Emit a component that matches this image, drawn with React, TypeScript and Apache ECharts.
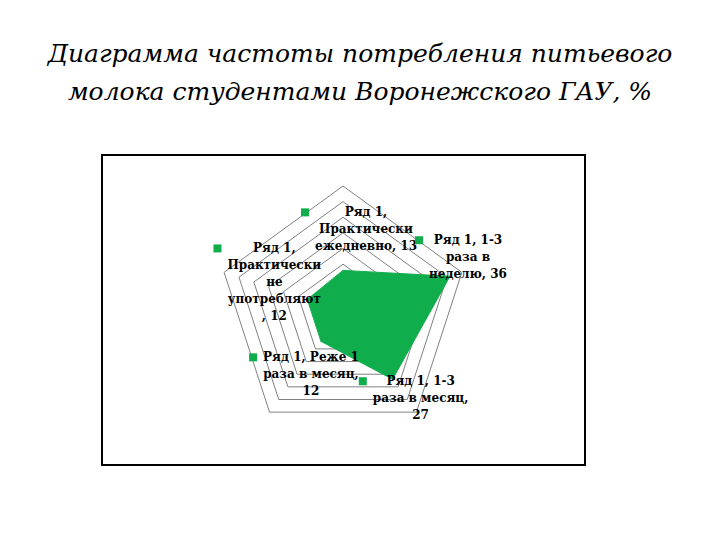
import React, { useEffect, useRef } from "react";
import * as echarts from "echarts";

// ---- data ----
const seriesName = "Ряд 1";
// radar order (counter-clockwise from the top)
const categories = [
  "Практически ежедневно",
  "Практически не употребляют",
  "Реже 1 раза в месяц",
  "1-3 раза в месяц",
  "1-3 раза в неделю",
];
const values = [13, 12, 12, 27, 36];
const axisMax = 40;
const splitCount = 8;

// how each data label is wrapped ({s} = series name, {v} = value)
const labelTemplates = [
  "{s},\nПрактически\nежедневно, {v}",
  "{s},\nПрактически\nне\nупотребляют\n, {v}",
  "{s}, Реже 1\nраза в месяц,\n{v}",
  "{s}, 1-3\nраза в месяц,\n{v}",
  "{s}, 1-3\nраза в\nнеделю, {v}",
];
// label shift from its vertex (dx, dy)
const labelShift = [
  [23, -41],
  [-33, -17],
  [-10, 33],
  [28, 19],
  [18, -19],
];

const GREEN = "#10ad4c";

function buildLabel(i: number): string {
  const txt = labelTemplates[i]
    .replace("{s}", seriesName)
    .replace("{v}", String(values[i]));
  const lines = txt.split("\n");
  return lines
    .map((ln, k) =>
      k === 0 ? `{m|}{gs|}${ln}{gr|}` : `{gl|}${ln}{gr|}`
    )
    .join("\n");
}

const builtLabels = categories.map((_, i) => buildLabel(i));

export default function App() {
  const ref = useRef<HTMLDivElement>(null);
  useEffect(() => {
    if (!ref.current) return;
    const chart = echarts.init(ref.current, null, { renderer: "svg" });
    chart.setOption({
      animation: false,
      backgroundColor: "#fff",
      title: {
        text: "Диаграмма частоты потребления питьевого\nмолока студентами Воронежского ГАУ, %",
        left: "center",
        top: 29,
        textStyle: {
          fontFamily: "DejaVu Serif",
          fontStyle: "italic",
          fontWeight: "normal",
          fontSize: 25,
          lineHeight: 38,
          color: "#000",
        },
      },
      graphic: [
        {
          type: "rect",
          shape: { x: 102, y: 155, width: 483, height: 310 },
          style: { fill: "none", stroke: "#000", lineWidth: 2 },
          z: 0,
        },
      ],
      radar: {
        center: [343, 311],
        radius: 125,
        startAngle: 90,
        shape: "polygon",
        splitNumber: splitCount,
        indicator: categories.map((c) => ({ name: c, min: 0, max: axisMax })),
        axisName: { show: false },
        axisLine: { show: false },
        axisTick: { show: false },
        axisLabel: { show: false },
        splitArea: { show: false },
        splitLine: { lineStyle: { color: "#808080", width: 1 } },
      },
      series: [
        {
          type: "radar",
          name: seriesName,
          symbol: "circle",
          symbolSize: 1,
          itemStyle: { color: GREEN },
          lineStyle: { color: GREEN, width: 1 },
          areaStyle: { color: GREEN, opacity: 1 },
          label: {
            show: true,
            position: "inside",
            align: "center",
            verticalAlign: "middle",
            color: "#000",
            textBorderWidth: 0,
            fontFamily: "DejaVu Serif",
            fontWeight: "bold",
            fontSize: 12,
            lineHeight: 17,
            formatter: (p: any) => {
              const i = p.dimensionIndex ?? 0;
              return builtLabels[i];
            },
            rich: {
              m: {
                width: 8,
                height: 8,
                backgroundColor: GREEN,
                align: "left",
              },
              gs: { width: 6, align: "left" },
              gl: { width: 14, align: "left" },
              gr: { width: 14, align: "right" },
            },
          },
          labelLayout: (p: any) => {
            let i = builtLabels.indexOf(p.text);
            if (i < 0) {
              i = builtLabels.findIndex((t) => p.text && p.text.indexOf(t) >= 0);
            }
            if (i < 0) return {};
            return { dx: labelShift[i][0], dy: labelShift[i][1] };
          },
          data: [{ name: seriesName, value: values }],
        },
      ],
    });
    return () => chart.dispose();
  }, []);
  return (
    <div
      ref={ref}
      style={{ position: "fixed", left: 0, top: 0, width: 720, height: 540 }}
    />
  );
}
